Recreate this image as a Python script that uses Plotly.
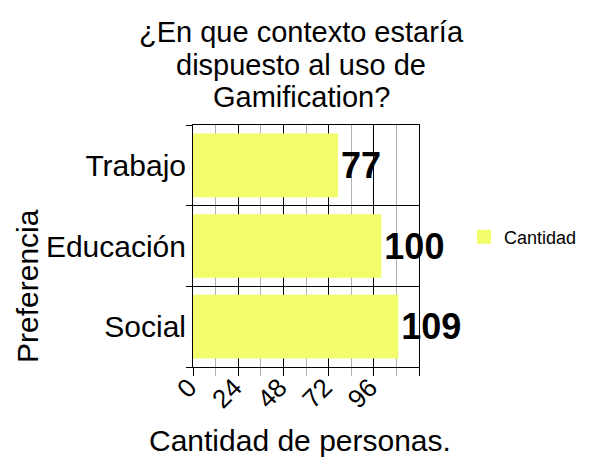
import plotly.graph_objects as go

categories = ["Social", "Educación", "Trabajo"]
values = [109, 100, 77]
series_name = "Cantidad"
tick_vals = [0, 24, 48, 72, 96, 120]
tick_text = ["0", "24", "48", "72", "96", ""]
title_lines = ["¿En que contexto estaría", "dispuesto al uso de", "Gamification?"]

FONT = "Liberation Sans, Arial, sans-serif"
COLOR = "#f3fc6b"
W, H = 600, 463
L, R, T, B = 193, 181, 125, 96
PW, PH = W - L - R, H - T - B

def px_x(x):
    return (x - L) / PW

def px_y(y):
    return (H - B - y) / PH

fig = go.Figure()
fig.add_trace(go.Bar(
    y=categories, x=values, orientation="h", name=series_name,
    marker=dict(color=COLOR, line=dict(width=0)),
    text=[str(v) for v in values], textposition="outside",
    textfont=dict(family=FONT, size=36, color="black", weight="bold"),
    cliponaxis=False, constraintext="none", showlegend=False,
))
fig.add_trace(go.Scatter(
    x=[None], y=[None], mode="markers", name=series_name,
    marker=dict(symbol="square", size=14, color=COLOR), showlegend=True,
))

annotations = []
for i, (line, yc) in enumerate(zip(title_lines, [32, 65, 97])):
    annotations.append(dict(text=line, x=px_x(301), xref="paper", xanchor="center",
                            y=px_y(yc), yref="paper", yanchor="middle", showarrow=False,
                            font=dict(size=29, family=FONT, color="black")))
annotations.append(dict(text="Preferencia", x=px_x(27), xref="paper", xanchor="center",
                        y=px_y(286), yref="paper", yanchor="middle", textangle=-90,
                        showarrow=False, font=dict(size=30, family=FONT, color="black")))
annotations.append(dict(text="Cantidad de personas.", x=px_x(300), xref="paper",
                        xanchor="center", y=px_y(440), yref="paper", yanchor="middle",
                        showarrow=False, font=dict(size=30, family=FONT, color="black")))

fig.update_layout(
    width=W, height=H,
    margin=dict(l=L, r=R, t=T, b=B),
    paper_bgcolor="white", plot_bgcolor="white",
    font=dict(family=FONT, color="black"),
    bargap=0.21,
    xaxis=dict(range=[0, 120], tickvals=tick_vals, ticktext=tick_text,
               tickangle=-45, tickfont=dict(size=26, family=FONT, color="black"),
               ticklabelstandoff=-14, ticklabelshift=-4,
               showgrid=True, gridcolor="black", gridwidth=1,
               ticks="outside", ticklen=8, tickcolor="black",
               showline=True, linecolor="black", mirror=True, zeroline=False,
               minor=dict(tickvals=[12, 36, 60, 84, 108], showgrid=True,
                          gridcolor="#b0b0b0", ticks="outside", ticklen=8,
                          tickcolor="#b0b0b0")),
    yaxis=dict(range=[-0.5, 2.5], tickson="boundaries", ticks="outside", ticklen=6,
               tickcolor="black", showgrid=True, gridcolor="black",
               tickfont=dict(size=30, family=FONT, color="black"),
               showline=True, linecolor="black", mirror=True, zeroline=False),
    legend=dict(x=px_x(464), y=px_y(237), xanchor="left", yanchor="middle",
                font=dict(size=18, family=FONT, color="black"),
                bgcolor="rgba(0,0,0,0)", itemwidth=30),
    annotations=annotations,
)

fig.write_html("out.html")
